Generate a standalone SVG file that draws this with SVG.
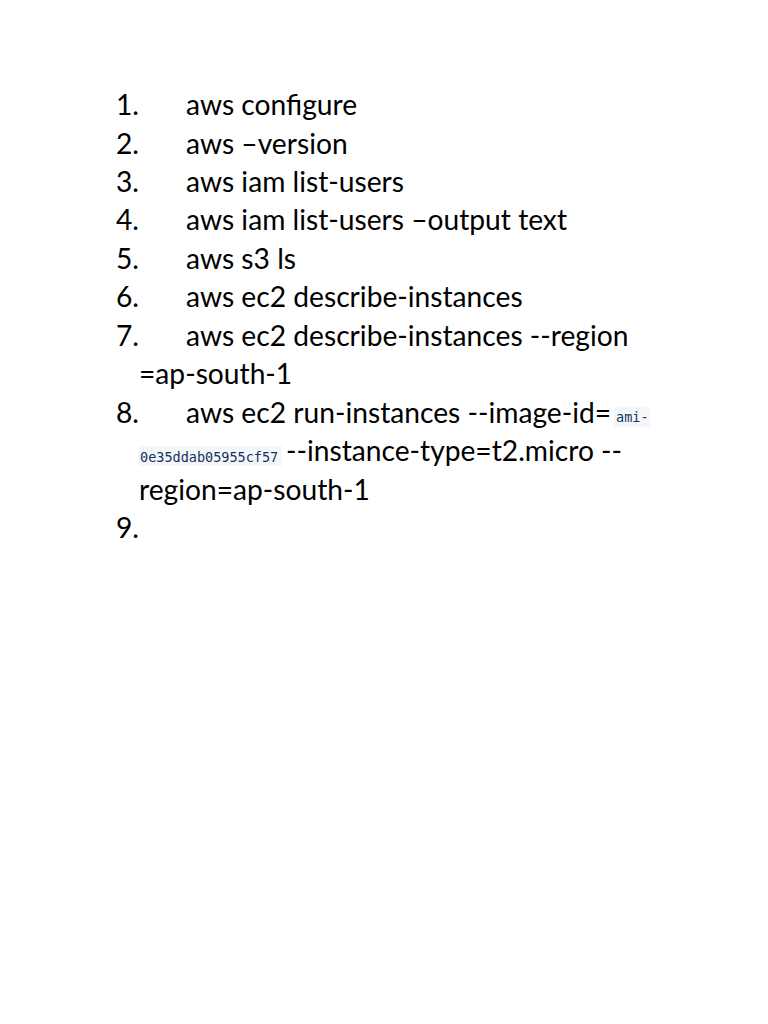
<svg xmlns="http://www.w3.org/2000/svg" width="768" height="1024" viewBox="0 0 768 1024">
<style>
.t{font-family:Lato,"Open Sans",sans-serif;font-size:28.2px;fill:#000}
.s{font-family:"DejaVu Sans Mono",monospace;font-size:13.5px;fill:#16325c}
</style>
<rect width="768" height="1024" fill="#fff"/>
<g class="t">
<text x="116" y="115">1.</text><text x="186" y="115">aws configure</text>
<text x="116" y="154">2.</text><text x="186" y="154">aws –version</text>
<text x="116" y="192">3.</text><text x="186" y="192">aws iam list-users</text>
<text x="116" y="230">4.</text><text x="186" y="230">aws iam list-users –output text</text>
<text x="116" y="269">5.</text><text x="186" y="269">aws s3 ls</text>
<text x="116" y="307">6.</text><text x="186" y="307">aws ec2 describe-instances</text>
<text x="116" y="346">7.</text><text x="186" y="346">aws ec2 describe-instances --region</text>
<text x="139" y="384">=ap-south-1</text>
<text x="116" y="423">8.</text><text x="186" y="423">aws ec2 run-instances --image-id=</text>
<text x="286" y="461">--instance-type=t2.micro --</text>
<text x="139" y="500">region=ap-south-1</text>
<text x="116" y="538">9.</text>
</g>
<rect x="614" y="407" width="36" height="20" fill="#f3f7fa"/>
<rect x="138" y="446" width="144" height="20" fill="#f3f7fa"/>
<text class="s" x="616" y="422">ami-</text>
<text class="s" x="140" y="462">0e35ddab05955cf57</text>
</svg>
